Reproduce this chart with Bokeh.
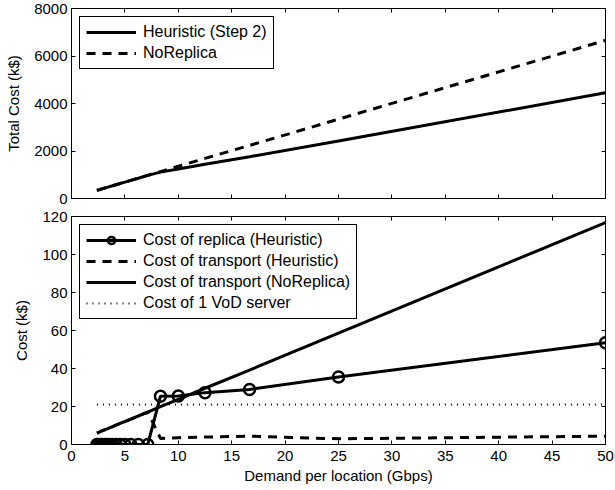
from bokeh.plotting import figure
from bokeh.layouts import column
from bokeh.models import LinearAxis, Range1d, Legend, LegendItem, FixedTicker, CustomJSTickFormatter
from bokeh.embed import file_html
from bokeh.resources import INLINE

# Demand per location (Gbps)
demand = [2.38, 2.5, 2.63, 2.78, 2.94, 3.13, 3.33, 3.57, 3.85, 4.17, 4.55,
          5.0, 5.56, 6.25, 7.14, 8.33, 10.0, 12.5, 16.67, 25.0, 50.0]

# Top panel: total cost (k$)
total_heuristic = [342, 359, 376, 399, 416, 445, 467, 502, 536, 581, 633,
                   690, 764, 855, 975, 1110, 1245, 1440, 1760, 2420, 4450]
total_noreplica = [342, 359, 376, 399, 416, 445, 467, 502, 536, 581, 633,
                   690, 764, 855, 975, 1134, 1357, 1687, 2234, 3340, 6658]

# Bottom panel: cost (k$)
replica_heuristic = [0, 0, 0, 0, 0, 0, 0, 0, 0, 0, 0,
                     0, 0, 0, 0, 25.4, 25.5, 27.3, 29.0, 35.5, 53.5]
transport_heuristic = [6.0, 6.3, 6.6, 7.0, 7.3, 7.8, 8.2, 8.8, 9.4, 10.2, 11.1,
                       12.1, 13.4, 15.0, 17.1, 3.2, 3.6, 3.9, 4.4, 3.0, 4.4]
transport_noreplica = [6.0, 6.3, 6.6, 7.0, 7.3, 7.8, 8.2, 8.8, 9.4, 10.2, 11.1,
                       12.1, 13.4, 15.0, 17.1, 19.9, 23.8, 29.6, 39.2, 58.6, 116.8]
vod_x = [2.38, 50.0]
vod_cost = [21.0, 21.0]

x_ticks = [0, 5, 10, 15, 20, 25, 30, 35, 40, 45, 50]
top_ticks = [0, 2000, 4000, 6000, 8000]
bottom_ticks = [0, 20, 40, 60, 80, 100, 120]

FONT = "Liberation Sans"
FS = "15px"
LFS = "16px"


def blank_formatter():
    return CustomJSTickFormatter(code="return ''")


def style(p, yticks, show_xlabels):
    p.outline_line_color = "black"
    p.outline_line_width = 1
    p.xgrid.visible = False
    p.ygrid.visible = False
    p.background_fill_color = "white"
    p.border_fill_color = "white"
    for ax in p.xaxis + p.yaxis:
        ax.major_tick_in = 4
        ax.major_tick_out = 0
        ax.minor_tick_line_color = None
        ax.axis_line_color = "black"
        ax.major_tick_line_color = "black"
        ax.major_label_text_font = FONT
        ax.major_label_text_font_size = FS
        ax.major_label_text_color = "black"
        ax.axis_label_text_font = FONT
        ax.axis_label_text_font_size = FS
        ax.axis_label_text_font_style = "normal"
        ax.axis_label_text_color = "black"
        ax.major_label_standoff = 4
    p.xaxis.ticker = FixedTicker(ticks=x_ticks)
    p.yaxis.ticker = FixedTicker(ticks=yticks)
    p.yaxis.axis_label_standoff = 9
    if not show_xlabels:
        p.xaxis.formatter = blank_formatter()
        p.xaxis.major_label_standoff = 0
    else:
        p.xaxis.major_label_standoff = 6
    # box ticks on top and right
    top = LinearAxis(ticker=FixedTicker(ticks=x_ticks), major_tick_in=4, major_tick_out=0,
                     minor_tick_line_color=None, formatter=blank_formatter(),
                     major_label_standoff=0, axis_line_color="black")
    right = LinearAxis(ticker=FixedTicker(ticks=yticks), major_tick_in=4, major_tick_out=0,
                       minor_tick_line_color=None, formatter=blank_formatter(),
                       major_label_standoff=0, axis_line_color="black")
    p.add_layout(top, "above")
    p.add_layout(right, "right")


def make_legend(items):
    lg = Legend(items=items, location="top_left")
    lg.border_line_color = "black"
    lg.border_line_width = 1
    lg.border_line_alpha = 1
    lg.background_fill_color = "white"
    lg.background_fill_alpha = 1
    lg.label_text_font = FONT
    lg.label_text_font_size = LFS
    lg.label_text_color = "black"
    lg.glyph_width = 50
    lg.glyph_height = 18
    lg.label_height = 18
    lg.spacing = 3
    lg.padding = 6
    lg.margin = 8
    lg.label_standoff = 7
    return lg


# ---------- top panel ----------
p1 = figure(frame_width=534, frame_height=190, output_backend="svg", toolbar_location=None,
            x_range=Range1d(0, 50), y_range=Range1d(0, 8000),
            min_border_left=71, min_border_right=10, min_border_top=8, min_border_bottom=10)
style(p1, top_ticks, False)
p1.left[0].axis_label = "Total Cost (k$)"
r_h = p1.line(demand, total_heuristic, line_color="black", line_width=3)
r_n = p1.line(demand, total_noreplica, line_color="black", line_width=3, line_dash="9 7")
p1.add_layout(make_legend([LegendItem(label="Heuristic (Step 2)", renderers=[r_h]),
                           LegendItem(label="NoReplica", renderers=[r_n])]))

# ---------- bottom panel ----------
p2 = figure(frame_width=534, frame_height=228, output_backend="svg", toolbar_location=None,
            x_range=Range1d(0, 50), y_range=Range1d(0, 120),
            min_border_left=71, min_border_right=10, min_border_top=8, min_border_bottom=46)
style(p2, bottom_ticks, True)
p2.left[0].axis_label = "Cost (k$)"
p2.below[0].axis_label = "Demand per location (Gbps)"
p2.below[0].axis_label_standoff = 3

r_rep = p2.line(demand, replica_heuristic, line_color="black", line_width=3)
r_rep_m = p2.scatter(demand, replica_heuristic, marker="circle", size=11, line_color="black",
                     line_width=2.5, fill_alpha=0)
r_th = p2.line(demand, transport_heuristic, line_color="black", line_width=3, line_dash="9 7")
r_tn = p2.line(demand, transport_noreplica, line_color="black", line_width=3)
r_vod = p2.line(vod_x, vod_cost, line_color="black", line_width=2, line_dash="1 5")

p2.add_layout(make_legend([
    LegendItem(label="Cost of replica (Heuristic)", renderers=[r_rep, r_rep_m]),
    LegendItem(label="Cost of transport (Heuristic)", renderers=[r_th]),
    LegendItem(label="Cost of transport (NoReplica)", renderers=[r_tn]),
    LegendItem(label="Cost of 1 VoD server", renderers=[r_vod]),
]))

layout = column(p1, p2, spacing=0)
open("out.html", "w").write(file_html(layout, INLINE))
